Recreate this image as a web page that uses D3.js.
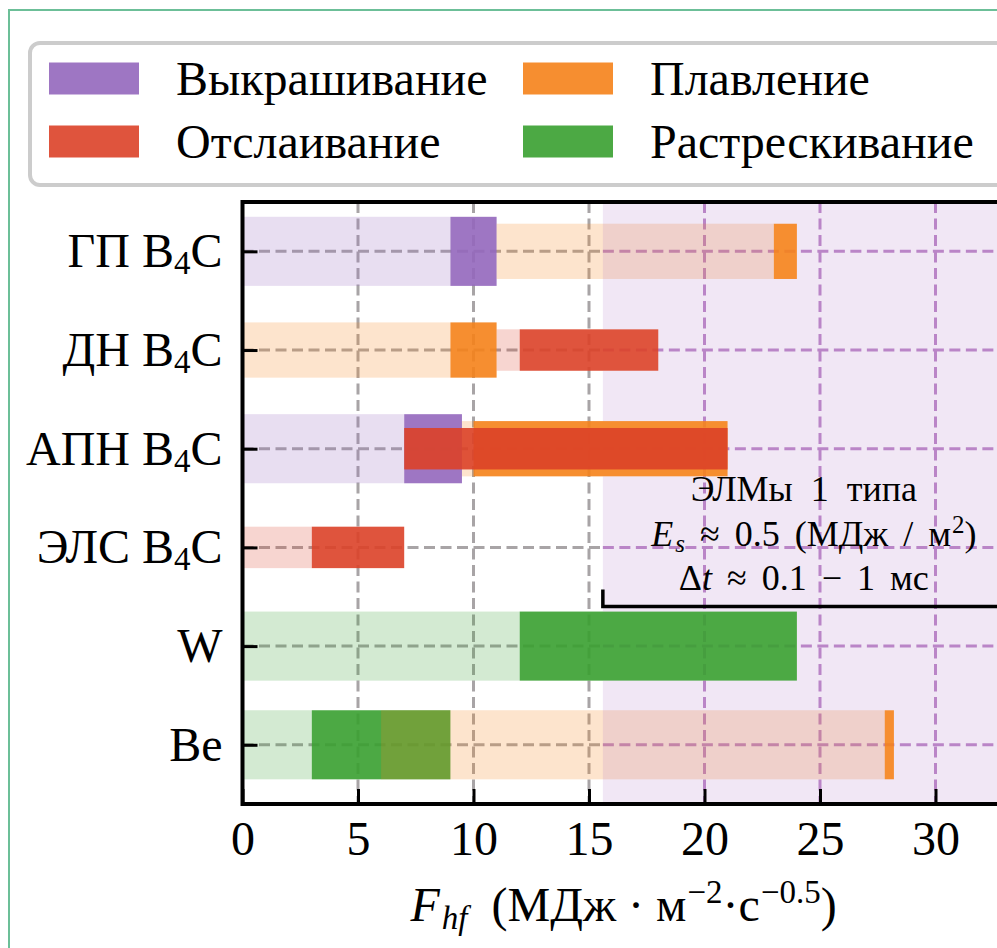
<!DOCTYPE html>
<html>
<head>
<meta charset="utf-8">
<script src="https://cdn.jsdelivr.net/npm/d3@7"></script>
<style>
  html, body { margin: 0; padding: 0; background: #fff; overflow: hidden; }
  svg { display: block; font-family: 'Liberation Serif', 'Times New Roman', serif; }
</style>
</head>
<body>
<div id="chart"></div>
<script>
const SIZE = { width: 997, height: 948 }

const materials = ['ГП B4C', 'ДН B4C', 'АПН B4C', 'ЭЛС B4C', 'W', 'Be']
const damageTypes = ['Выкрашивание', 'Плавление', 'Отслаивание', 'Растрескивание']
const legendOrder = ['Выкрашивание', 'Отслаивание', 'Плавление', 'Растрескивание']
const xTicks = [0, 5, 10, 15, 20, 25, 30]

// one entry per damage range: material, damage type, band tier,
// start of the "no damage" stretch, damage onset, end of the damage range
const segMaterial = ['ГП B4C', 'ГП B4C', 'ДН B4C', 'ДН B4C', 'АПН B4C', 'АПН B4C', 'АПН B4C', 'ЭЛС B4C', 'W', 'Be', 'Be']
const segDamage = ['Выкрашивание', 'Плавление', 'Плавление', 'Отслаивание', 'Выкрашивание', 'Плавление', 'Отслаивание', 'Отслаивание', 'Растрескивание', 'Растрескивание', 'Плавление']
const segTier = [0, 1, 1, 2, 0, 1, 2, 2, 0, 0, 0]
const segFrom = [0, 11, 0, 11, 0, 9.5, 7, 0, 0, 0, 6]
const segOnset = [9, 23, 9, 12, 7, 10, 7, 3, 12, 3, 27.8]
const segTo = [11, 24, 11, 18, 9.5, 21, 21, 7, 24, 9, 28.2]

// type I ELM load range
const elmFrom = 15.6
const xMax = 33

const FONT = 48
const SMALL = 33
const NOTE = 36
const NOTE_SMALL = 25
const GRID_GRAY = '#a8a4a6'
const GRID_PURPLE = '#be8bc9'

function defineSVG (params) {
  const { selector, size } = params
  return d3.select(selector)
    .append('svg')
    .attr('width', size.width)
    .attr('height', size.height)
}

function scales () {
  const x = d3.scaleLinear().domain([0, xMax]).range([242.5, 1004.8])
  const y = d3.scaleLinear().domain([-0.5, 5.6]).range([202, 804])
  const thickness = d3.scaleOrdinal().domain([0, 1, 2]).range([0.7, 0.56, 0.42])
  const colour = d3.scaleOrdinal()
    .domain(damageTypes)
    .range(['#9467bd', '#f5821a', '#dc4128', '#38a030'])
  return { x, y, thickness, colour }
}

function buildPieces () {
  const pieces = []
  segMaterial.forEach((m, i) => {
    const base = { row: materials.indexOf(m), damage: segDamage[i], tier: segTier[i] }
    if (segOnset[i] > segFrom[i]) pieces.push({ ...base, x0: segFrom[i], x1: segOnset[i], faint: true })
    pieces.push({ ...base, x0: segOnset[i], x1: segTo[i], faint: false })
  })
  return pieces
}

function drawGrid (params) {
  const { svg, x, y } = params
  const g = svg.append('g').attr('class', 'grid')
    .attr('fill', 'none')
    .attr('stroke-width', 3)
    .attr('stroke-dasharray', '11,5.5')

  g.selectAll('line.v')
    .data(xTicks.filter(t => t > 0))
    .join('line')
    .attr('class', 'v')
    .attr('x1', d => x(d)).attr('x2', d => x(d))
    .attr('y1', y.range()[0]).attr('y2', y.range()[1])
    .attr('stroke', d => d < elmFrom ? GRID_GRAY : GRID_PURPLE)

  const spans = []
  materials.forEach((m, i) => {
    spans.push({ row: i, a: 0, b: elmFrom, c: GRID_GRAY })
    spans.push({ row: i, a: elmFrom, b: xMax, c: GRID_PURPLE })
  })
  g.selectAll('line.h')
    .data(spans)
    .join('line')
    .attr('class', 'h')
    .attr('x1', d => x(d.a)).attr('x2', d => x(d.b))
    .attr('y1', d => y(d.row)).attr('y2', d => y(d.row))
    .attr('stroke', d => d.c)
}

function barRects (sel, params) {
  const { x, y, thickness } = params
  return sel
    .attr('x', d => x(d.x0))
    .attr('width', d => x(d.x1) - x(d.x0))
    .attr('y', d => y(d.row - thickness(d.tier) / 2))
    .attr('height', d => y(d.row + thickness(d.tier) / 2) - y(d.row - thickness(d.tier) / 2))
}

function drawBars (params) {
  const { svg, colour, pieces } = params
  svg.append('g').attr('class', 'bars')
    .selectAll('rect')
    .data(pieces)
    .join('rect')
    .call(barRects, params)
    .attr('fill', d => colour(d.damage))
    .attr('fill-opacity', d => d.faint ? 0.22 : 0.9)
}

function drawElmRegion (params) {
  const { svg, x, y, pieces } = params
  const [y0, y1] = y.range()

  // the ELM band tints the background and the faint ranges, not the solid ones
  const mask = svg.append('mask').attr('id', 'elm-mask')
  mask.append('rect')
    .attr('width', SIZE.width)
    .attr('height', SIZE.height)
    .attr('fill', '#fff')
  mask.selectAll('rect.solid')
    .data(pieces.filter(d => !d.faint))
    .join('rect')
    .attr('class', 'solid')
    .call(barRects, params)
    .attr('fill', '#000')

  svg.append('rect')
    .attr('x', x(elmFrom))
    .attr('width', x(xMax) - x(elmFrom))
    .attr('y', y0)
    .attr('height', y1 - y0)
    .attr('fill', '#a86cc0')
    .attr('fill-opacity', 0.16)
    .attr('mask', 'url(#elm-mask)')
}

function labelWithSub (text, label) {
  text.text(null)
  const m = label.match(/^(.*B)4(C)$/)
  if (!m) {
    text.text(label)
    return
  }
  text.append('tspan').text(m[1])
  text.append('tspan').attr('font-size', SMALL).attr('dy', 7).text('4')
  text.append('tspan').attr('dy', -7).text(m[2])
}

function drawAxes (params) {
  const { svg, x, y } = params
  const [x0, x1] = x.range()
  const [y0, y1] = y.range()

  const bottom = svg.append('g')
    .attr('transform', `translate(0,${y1})`)
    .call(d3.axisBottom(x).tickValues(xTicks).tickSize(-15).tickSizeOuter(0).tickPadding(17))
  bottom.select('.domain').remove()
  bottom.selectAll('.tick line').attr('stroke', '#000').attr('stroke-width', 3)
  bottom.selectAll('.tick text')
    .attr('font-family', 'Liberation Serif, serif')
    .attr('font-size', FONT)
    .attr('fill', '#000')

  const left = svg.append('g')
    .attr('transform', `translate(${x0},0)`)
    .call(d3.axisLeft(y).tickValues(d3.range(materials.length)).tickSize(-15).tickSizeOuter(0).tickPadding(20))
  left.select('.domain').remove()
  left.selectAll('.tick line').attr('stroke', '#000').attr('stroke-width', 3)
  left.selectAll('.tick text')
    .attr('font-family', 'Liberation Serif, serif')
    .attr('font-size', FONT)
    .attr('fill', '#000')
    .each(function (d) { labelWithSub(d3.select(this), materials[d]) })

  svg.append('rect')
    .attr('x', x0).attr('y', y0)
    .attr('width', x1 - x0).attr('height', y1 - y0)
    .attr('fill', 'none')
    .attr('stroke', '#000')
    .attr('stroke-width', 4)

  const label = svg.append('text')
    .attr('x', (x0 + x1) / 2)
    .attr('y', 921)
    .attr('text-anchor', 'middle')
    .attr('font-size', FONT)
  label.append('tspan').attr('font-style', 'italic').text('F')
  label.append('tspan').attr('font-style', 'italic').attr('font-size', SMALL).attr('dx', 2).attr('dy', 8).text('hf')
  label.append('tspan').attr('dy', -8).text('\u2002(МДж · м')
  label.append('tspan').attr('font-size', SMALL).attr('dx', 1).attr('dy', -18).text('−2')
  label.append('tspan').attr('dy', 18).text('·с')
  label.append('tspan').attr('font-size', SMALL).attr('dx', 1).attr('dy', -18).text('−0.5')
  label.append('tspan').attr('dy', 18).text(')')
}

function drawElmNote (params) {
  const { svg, x, y } = params
  const by = y(3.6)
  svg.append('path')
    .attr('d', `M${x(elmFrom)},${by - 17}V${by}H${x(xMax)}`)
    .attr('fill', 'none')
    .attr('stroke', '#000')
    .attr('stroke-width', 3.5)

  const cx = x((elmFrom + xMax) / 2)
  const t = svg.append('g')
    .attr('text-anchor', 'middle')
    .attr('font-size', NOTE)

  t.append('text').attr('x', cx).attr('y', by - 106).attr('word-spacing', 9).text('ЭЛМы 1 типа')

  const l2 = t.append('text').attr('x', cx + 10).attr('y', by - 61).attr('word-spacing', 6)
  l2.append('tspan').attr('font-style', 'italic').text('E')
  l2.append('tspan').attr('font-style', 'italic').attr('font-size', NOTE_SMALL).attr('dx', 2).attr('dy', 6).text('s')
  l2.append('tspan').attr('dy', -6).text(' ≈ 0.5 (МДж / м')
  l2.append('tspan').attr('font-size', NOTE_SMALL).attr('dx', 1).attr('dy', -13).text('2')
  l2.append('tspan').attr('dy', 13).text(')')

  const l3 = t.append('text').attr('x', cx).attr('y', by - 17).attr('word-spacing', 6)
  l3.append('tspan').text('Δ')
  l3.append('tspan').attr('font-style', 'italic').text('t')
  l3.append('tspan').text(' ≈ 0.1 − 1 мс')
}

function drawLegend (params) {
  const { svg, colour } = params
  const g = svg.append('g').attr('transform', 'translate(30,43)')
  g.append('rect')
    .attr('width', 1000)
    .attr('height', 142)
    .attr('rx', 10)
    .attr('fill', '#fff')
    .attr('stroke', '#cccccc')
    .attr('stroke-width', 4)

  const items = g.selectAll('g.item')
    .data(legendOrder)
    .join('g')
    .attr('class', 'item')
    .attr('transform', (d, i) => `translate(${19 + Math.floor(i / 2) * 474},${19.5 + (i % 2) * 63})`)
  items.append('rect')
    .attr('width', 90)
    .attr('height', 32)
    .attr('fill', d => colour(d))
    .attr('fill-opacity', 0.9)
  items.append('text')
    .attr('x', 127)
    .attr('y', 32.5)
    .attr('font-size', FONT)
    .text(d => d)
}

function drawFrame (svg) {
  svg.append('path')
    .attr('d', `M9,${SIZE.height}V10H${SIZE.width}`)
    .attr('fill', 'none')
    .attr('stroke', '#6cbf98')
    .attr('stroke-width', 2)
}

const svg = defineSVG({ selector: '#chart', size: SIZE })
const { x, y, thickness, colour } = scales()
const pieces = buildPieces()

drawGrid({ svg, x, y })
drawBars({ svg, x, y, thickness, colour, pieces })
drawElmRegion({ svg, x, y, thickness, pieces })
drawElmNote({ svg, x, y })
drawAxes({ svg, x, y })
drawLegend({ svg, colour })
drawFrame(svg)
</script>
</body>
</html>
